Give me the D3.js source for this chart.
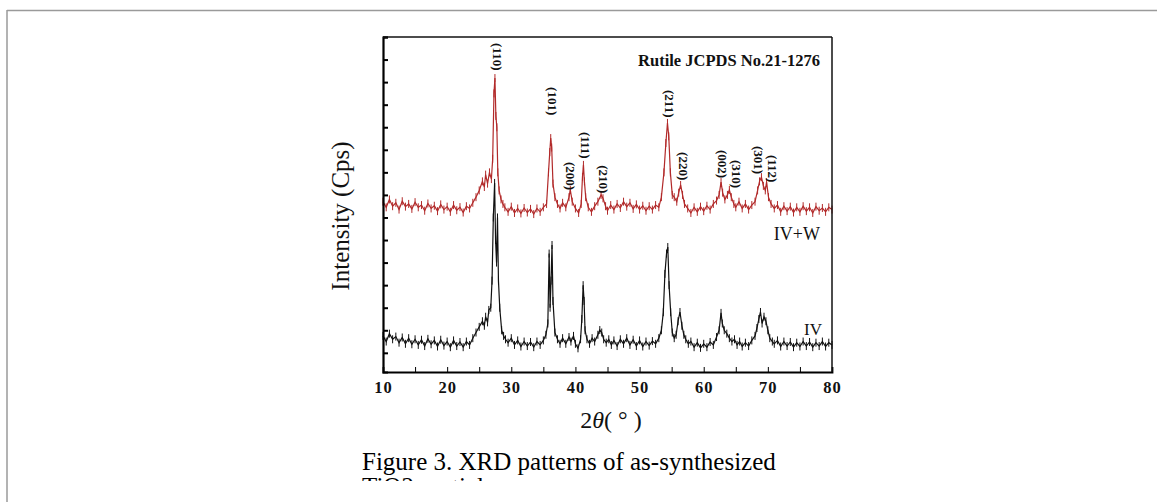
<!DOCTYPE html>
<html>
<head>
<meta charset="utf-8">
<script src="https://cdn.jsdelivr.net/npm/d3@7"></script>
<style>
  body { margin: 0; background: #fff; }
  svg { display: block; }
  text { font-family: "Liberation Serif", "Times New Roman", serif; }
</style>
</head>
<body>
<div id="chart"></div>
<script>
// XRD patterns, sample IV+W (red, upper) and sample IV (black, lower)
var twoTheta = [10,10.5,11,11.5,12,12.5,13,13.5,14,14.5,15,15.5,16,16.5,17,17.5,18,18.5,19,19.5,20,20.5,21,21.5,22,22.5,23,23.5,24,24.5,25,25.5,25.8,26,26.3,26.6,26.9,27.1,27.3,27.45,27.6,27.75,27.9,28.1,28.4,28.7,29,29.5,30,30.5,31,31.5,32,32.5,33,33.5,34,34.5,35,35.5,35.8,36,36.15,36.3,36.5,36.8,37.2,37.6,38,38.5,39,39.2,39.5,40,40.5,40.9,41.1,41.25,41.4,41.6,42,42.5,43,43.5,44,44.3,44.7,45,45.5,46,46.5,47,47.5,48,48.5,49,49.5,50,50.5,51,51.5,52,52.5,53,53.4,53.8,54.1,54.35,54.55,54.8,55.1,55.4,55.8,56.1,56.4,56.7,57,57.5,58,58.5,59,59.5,60,60.5,61,61.5,62,62.4,62.7,62.95,63.3,63.7,64,64.3,64.7,65,65.5,66,66.5,67,67.5,68,68.4,68.7,69,69.3,69.6,69.8,70.1,70.5,71,71.5,72,72.5,73,73.5,74,74.5,75,75.5,76,76.5,77,77.5,78,78.5,79,79.5,80];
var cpsIVW = [770,745,780,750,765,735,772,748,760,738,768,745,755,730,762,740,752,728,758,735,748,725,755,732,746,722,750,740,765,790,820,860,835,890,850,900,870,960,1250,1318,1150,1100,900,820,780,760,745,725,748,720,740,718,742,722,738,715,740,725,745,760,900,990,1052,1010,850,790,760,740,765,745,790,822,770,740,720,760,880,933,860,790,745,725,750,770,800,785,750,730,755,735,760,742,770,748,765,738,758,735,752,730,750,735,755,745,790,900,1030,1119,1060,900,800,790,770,810,844,800,760,740,720,745,725,748,728,752,735,760,775,800,857,810,780,800,822,790,760,745,770,740,760,735,755,770,820,860,879,840,820,857,790,760,740,755,725,750,728,748,722,745,725,750,728,745,720,748,730,742,725,745,735];

var twoThetaIV = [10,10.5,11,11.5,12,12.5,13,13.5,14,14.5,15,15.5,16,16.5,17,17.5,18,18.5,19,19.5,20,20.5,21,21.5,22,22.5,23,23.5,24,24.5,25,25.5,25.8,26,26.3,26.5,26.8,27,27.2,27.4,27.55,27.7,27.85,28,28.2,28.5,28.8,29.1,29.5,30,30.5,31,31.5,32,32.5,33,33.5,34,34.5,35,35.4,35.7,35.9,36.05,36.2,36.35,36.5,36.8,37.2,37.6,38,38.5,39,39.3,39.7,40,40.4,40.8,41,41.2,41.35,41.5,41.8,42.2,42.6,43,43.5,43.8,44.1,44.4,44.8,45.2,45.6,46,46.5,47,47.5,48,48.5,49,49.5,50,50.5,51,51.5,52,52.5,53,53.4,53.7,53.95,54.2,54.4,54.6,54.85,55.1,55.4,55.7,56,56.3,56.6,56.9,57.2,57.6,58,58.5,59,59.5,60,60.5,61,61.5,62,62.4,62.7,62.9,63.2,63.6,64,64.4,64.8,65.2,65.6,66,66.5,67,67.5,68,68.3,68.6,68.85,69.1,69.4,69.7,70,70.3,70.7,71,71.5,72,72.5,73,73.5,74,74.5,75,75.5,76,76.5,77,77.5,78,78.5,79,79.5,80];
var cpsIV = [175,150,185,160,172,145,168,140,165,138,160,135,158,130,162,138,155,128,158,132,150,125,155,130,148,125,150,135,165,190,215,240,220,260,235,290,300,420,700,853,600,500,700,420,300,200,175,160,145,165,135,155,128,150,130,148,125,150,135,155,180,230,540,300,420,578,330,190,160,140,165,140,170,150,175,140,120,160,250,400,330,200,160,140,165,150,180,201,190,160,145,160,135,155,130,160,140,165,135,158,130,155,128,150,132,152,140,165,200,280,450,540,569,400,280,190,165,180,240,281,220,180,160,140,150,125,145,122,140,125,148,135,170,200,277,230,200,185,165,150,160,135,150,128,145,130,155,175,210,250,281,230,260,240,200,165,150,140,155,128,150,130,148,125,145,128,150,130,148,125,145,130,150,128,145,135];

// peak indexing (Rutile JCPDS No.21-1276)
var hkl = ["(110)","(101)","(200)","(111)","(210)","(211)","(220)","(002)","(310)","(301)","(112)"];
var hklTheta = [27.8,36.4,39.2,41.5,44.3,54.6,56.8,62.9,65.1,68.5,70.7];
var hklCps = [1473,1278,946,1079,932,1265,990,999,955,1017,977];

var xTicks = [10,15,20,25,30,35,40,45,50,55,60,65,70,75,80];
var yTicks = [100,200,300,400,500,600,700,800,900,1000,1100,1200,1300,1400,1500];

var W = 1157, H = 502;
var svg = d3.select("#chart").append("svg")
    .attr("width", W)
    .attr("height", H);

// page frame
svg.append("line").attr("x1", 7).attr("x2", W).attr("y1", 10.5).attr("y2", 10.5)
    .attr("stroke", "#9a9a9a").attr("stroke-width", 1.5);
svg.append("line").attr("x1", 7).attr("x2", 7).attr("y1", 10).attr("y2", H)
    .attr("stroke", "#9a9a9a").attr("stroke-width", 1.5);

var x = d3.scaleLinear().domain([10, 80]).range([383, 832]);
var y = d3.scaleLinear().domain([15, 1500]).range([372, 37]);

var line = d3.line()
    .x(function (d) { return x(d[0]); })
    .y(function (d) { return y(d[1]); });

var redData = twoTheta.map(function (t, i) { return [t, cpsIVW[i]]; });
var blackData = twoThetaIV.map(function (t, i) { return [t, cpsIV[i]]; });

svg.append("path").datum(redData)
    .attr("d", line).attr("fill", "none")
    .attr("stroke", "#b22a2a").attr("stroke-width", 1.2);
svg.append("path").datum(blackData)
    .attr("d", line).attr("fill", "none")
    .attr("stroke", "#111").attr("stroke-width", 1.2);

// little vertical marks at each data point, like the scanned trace
svg.selectAll(".rmark").data(redData).enter().append("line")
    .attr("x1", function (d) { return x(d[0]); })
    .attr("x2", function (d) { return x(d[0]); })
    .attr("y1", function (d) { return y(d[1]) - 4; })
    .attr("y2", function (d) { return y(d[1]) + 4; })
    .attr("stroke", "#b22a2a").attr("stroke-width", 1);
svg.selectAll(".bmark").data(blackData).enter().append("line")
    .attr("x1", function (d) { return x(d[0]); })
    .attr("x2", function (d) { return x(d[0]); })
    .attr("y1", function (d) { return y(d[1]) - 4; })
    .attr("y2", function (d) { return y(d[1]) + 4; })
    .attr("stroke", "#111").attr("stroke-width", 1);

// axes
var xAxis = svg.append("g")
    .attr("transform", "translate(0,372)")
    .call(d3.axisBottom(x).tickValues(xTicks).tickSize(-5).tickPadding(9)
        .tickFormat(function (d) { return d % 10 === 0 ? d : ""; }));
xAxis.selectAll("text").attr("font-size", 16.5).attr("font-weight", "bold")
    .attr("letter-spacing", 1).attr("fill", "#111")
    .style("font-family", "'Liberation Serif', serif");
xAxis.select(".domain").attr("stroke-width", 1.8);

var yAxis = svg.append("g")
    .attr("transform", "translate(383,0)")
    .call(d3.axisLeft(y).tickValues(yTicks).tickSize(-5).tickFormat(""));
yAxis.select(".domain").attr("stroke-width", 2.2);
yAxis.selectAll(".tick line").attr("stroke-width", 2);

// top and right frame
svg.append("line").attr("x1", x(10)).attr("x2", x(80)).attr("y1", y(1500)).attr("y2", y(1500))
    .attr("stroke", "#111").attr("stroke-width", 1.5);
svg.append("line").attr("x1", x(80)).attr("x2", x(80)).attr("y1", y(1500)).attr("y2", 372)
    .attr("stroke", "#111").attr("stroke-width", 1.5);

// peak labels
svg.selectAll(".hkl").data(hkl).enter().append("text")
    .attr("transform", function (d, i) {
        return "translate(" + x(hklTheta[i]) + "," + y(hklCps[i]) + ") rotate(90)";
    })
    .attr("dominant-baseline", "central")
    .attr("font-size", 13)
    .attr("font-weight", "bold")
    .attr("fill", "#111")
    .text(function (d) { return d; });

svg.append("text").attr("x", 820).attr("y", 66).attr("text-anchor", "end")
    .attr("font-size", 16.5).attr("font-weight", "bold").attr("fill", "#111")
    .text("Rutile JCPDS No.21-1276");
svg.append("text").attr("x", 820).attr("y", 240).attr("text-anchor", "end")
    .attr("font-size", 18).attr("fill", "#111").text("IV+W");
svg.append("text").attr("x", 822).attr("y", 335).attr("text-anchor", "end")
    .attr("font-size", 17).attr("fill", "#111").text("IV");

// axis titles
svg.append("text").attr("transform", "translate(349,216) rotate(-90)")
    .attr("text-anchor", "middle").attr("font-size", 25).attr("fill", "#111")
    .text("Intensity (Cps)");
var xt = svg.append("text").attr("x", 611).attr("y", 428).attr("text-anchor", "middle")
    .attr("font-size", 24).attr("fill", "#111");
xt.append("tspan").text("2");
xt.append("tspan").attr("font-style", "italic").text("θ");
xt.append("tspan").text("( ° )");

// caption, second line clipped like the source
svg.append("clipPath").attr("id", "capclip").append("rect")
    .attr("x", 0).attr("y", 430).attr("width", W).attr("height", 51);
var cap = svg.append("g").attr("clip-path", "url(#capclip)");
cap.append("text").attr("x", 362).attr("y", 470).attr("font-size", 25).attr("fill", "#000")
    .text("Figure 3. XRD patterns of as-synthesized");
cap.append("text").attr("x", 362).attr("y", 495).attr("font-size", 25).attr("fill", "#000")
    .text("TiO2 particles");
</script>
</body>
</html>
